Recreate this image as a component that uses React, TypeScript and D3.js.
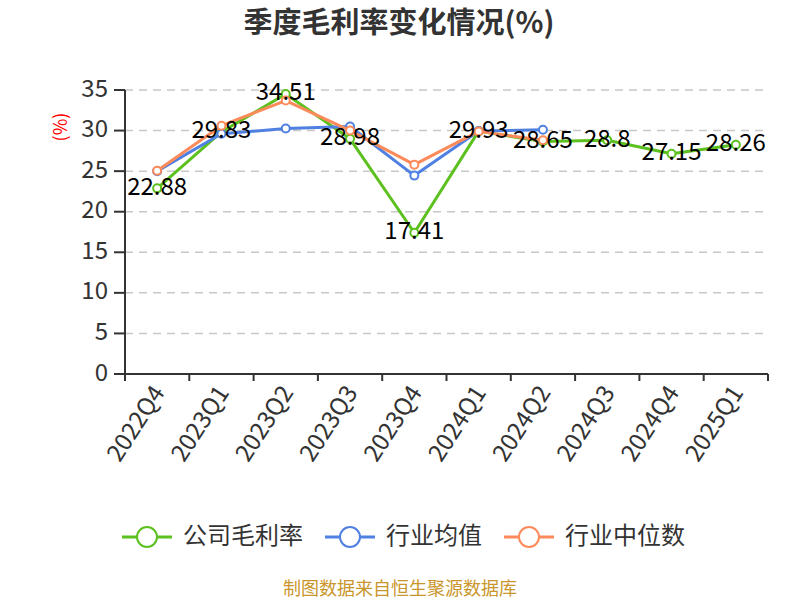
import * as d3 from "d3";

const quarters = ["2022Q4", "2023Q1", "2023Q2", "2023Q3", "2023Q4", "2024Q1", "2024Q2", "2024Q3", "2024Q4", "2025Q1"];
const companyMargin = [22.88, 29.83, 34.51, 28.98, 17.41, 29.93, 28.65, 28.8, 27.15, 28.26];
const industryAvg = [25.0, 29.6, 30.25, 30.5, 24.45, 29.95, 30.1];
const industryMedian = [25.05, 30.6, 33.7, 30.0, 25.8, 29.9, 28.8];
const yTicks = [0, 5, 10, 15, 20, 25, 30, 35];

const seriesNames = ["公司毛利率", "行业均值", "行业中位数"];
const seriesColors = ["#5cc11f", "#4f80e2", "#fd8a5a"];

const font = "'Noto Sans CJK SC', 'Noto Sans', sans-serif";

export default function App() {
  const width = 800;
  const height = 600;
  const left = 125;
  const right = 768;
  const top = 90;
  const bottom = 374;

  const x = d3.scaleBand<string>().domain(quarters).range([left, right]);
  const y = d3.scaleLinear().domain([0, 35]).range([bottom, top]);
  const cx = (i: number) => (x(quarters[i]) as number) + x.bandwidth() / 2;

  const line = d3
    .line<number>()
    .x((_, i) => cx(i))
    .y((d) => y(d));

  const allSeries = [companyMargin, industryAvg, industryMedian];
  const legendX = [122, 325, 504];

  return (
    <svg width={width} height={height} style={{ position: "absolute", left: 0, top: 0 }} fontFamily={font}>
      <rect width={width} height={height} fill="#fff" />
      <text x={399} y={25} textAnchor="middle" dominantBaseline="middle" fontSize={29} fontWeight="bold" fill="#333">
        季度毛利率变化情况(%)
      </text>

      {/* grid */}
      {yTicks.filter((t) => t > 0).map((t) => (
        <line key={t} x1={left} x2={right} y1={y(t)} y2={y(t)} stroke="#c8c8c8" strokeWidth={1.5} strokeDasharray="8,6" />
      ))}

      {/* y axis */}
      <line x1={left} x2={left} y1={top} y2={bottom} stroke="#333" strokeWidth={2} />
      {yTicks.map((t) => (
        <g key={t}>
          <line x1={left - 11} x2={left} y1={y(t)} y2={y(t)} stroke="#333" strokeWidth={2} />
          <text x={left - 17} y={y(t)} textAnchor="end" dominantBaseline="middle" fontSize={24} fill="#333">
            {t}
          </text>
        </g>
      ))}
      <text transform={`translate(62,127) rotate(-90)`} textAnchor="middle" dominantBaseline="middle" fontSize={18} fill="#f00">
        (%)
      </text>

      {/* x axis */}
      <line x1={left} x2={right} y1={bottom} y2={bottom} stroke="#333" strokeWidth={2} />
      {quarters.concat([""]).map((q, i) => {
        const px = i < quarters.length ? (x(q) as number) : right;
        return <line key={i} x1={px} x2={px} y1={bottom} y2={bottom + 7} stroke="#333" strokeWidth={2} />;
      })}
      {quarters.map((q, i) => (
        <text
          key={q}
          transform={`translate(${cx(i) + 3},${bottom + 15}) rotate(-57)`}
          textAnchor="end"
          dominantBaseline="middle"
          fontSize={24}
          fill="#333"
        >
          {q}
        </text>
      ))}

      {/* series */}
      {allSeries.map((s, k) => (
        <g key={k}>
          <path d={line(s) ?? ""} fill="none" stroke={seriesColors[k]} strokeWidth={3} strokeLinejoin="round" />
          {s.map((v, i) => (
            <circle key={i} cx={cx(i)} cy={y(v)} r={4} fill="#fff" stroke={seriesColors[k]} strokeWidth={2} />
          ))}
        </g>
      ))}

      {/* labels */}
      {companyMargin.map((v, i) => (
        <text key={i} x={cx(i)} y={y(v)} textAnchor="middle" dominantBaseline="middle" fontSize={24} fill="#000">
          {v}
        </text>
      ))}

      {/* legend */}
      {seriesNames.map((n, k) => (
        <g key={n}>
          <line x1={legendX[k]} x2={legendX[k] + 50} y1={537} y2={537} stroke={seriesColors[k]} strokeWidth={3} />
          <circle cx={legendX[k] + 25} cy={537} r={10} fill="#fff" stroke={seriesColors[k]} strokeWidth={2} />
          <text x={legendX[k] + 61} y={537} dominantBaseline="middle" fontSize={24} fill="#333">
            {n}
          </text>
        </g>
      ))}

      <text x={400} y={590} textAnchor="middle" dominantBaseline="middle" fontSize={18} fill="#c9962b">
        制图数据来自恒生聚源数据库
      </text>
    </svg>
  );
}
